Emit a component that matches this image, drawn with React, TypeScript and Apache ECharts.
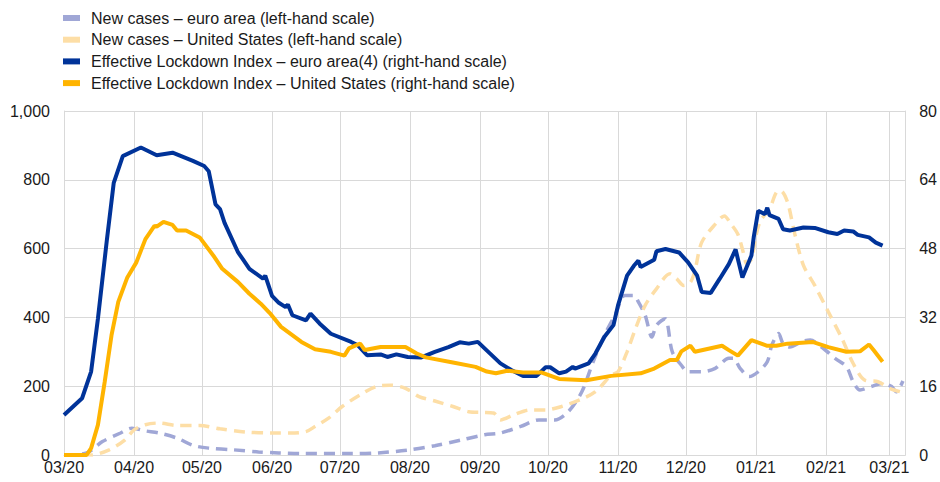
import React, { useEffect, useRef } from "react";
import * as echarts from "echarts";

const seriesNames = [
  "New cases – euro area (left-hand scale)",
  "New cases – United States (left-hand scale)",
  "Effective Lockdown Index – euro area(4) (right-hand scale)",
  "Effective Lockdown Index – United States (right-hand scale)",
];

const xMin = "2020-03-01";
const xMax = "2021-03-08";

const leftTicks = { min: 0, max: 1000, interval: 200 };
const rightTicks = { min: 0, max: 80, interval: 16 };

// New cases – euro area (left-hand scale)
const eaCasesDates = [
  "2020-03-01", "2020-03-11", "2020-03-18", "2020-03-26", "2020-03-31", "2020-04-06", "2020-04-12",
  "2020-04-20", "2020-04-27", "2020-05-04", "2020-05-15", "2020-05-26", "2020-06-04", "2020-06-14",
  "2020-07-06", "2020-07-18", "2020-08-01", "2020-08-12", "2020-08-24", "2020-09-03", "2020-09-10",
  "2020-09-19", "2020-09-27", "2020-10-04", "2020-10-10", "2020-10-16", "2020-10-21", "2020-10-26",
  "2020-10-31", "2020-11-04", "2020-11-08", "2020-11-10", "2020-11-13", "2020-11-16", "2020-11-18",
  "2020-11-22", "2020-11-23", "2020-11-25", "2020-11-29", "2020-12-02", "2020-12-08", "2020-12-14",
  "2020-12-20", "2020-12-22", "2020-12-25", "2020-12-29", "2021-01-02", "2021-01-06", "2021-01-08",
  "2021-01-11", "2021-01-13", "2021-01-16", "2021-01-21", "2021-01-25", "2021-01-30", "2021-02-05",
  "2021-02-10", "2021-02-13", "2021-02-16", "2021-02-21", "2021-02-26", "2021-03-02", "2021-03-04",
  "2021-03-07",
];
const eaCasesValues = [
  0, 6, 39, 64, 78, 70, 64,
  49, 28, 20, 15, 9, 6, 4,
  4, 6, 15, 27, 44, 59, 64,
  83, 102, 102, 126, 184, 271, 348,
  411, 464, 464, 445, 406, 343, 377,
  396, 377, 300, 261, 242, 242, 252,
  281, 281, 252, 228, 242, 271, 319,
  353, 324, 314, 329, 334, 314, 281,
  257, 213, 189, 199, 208, 199, 184,
  215,
];

// New cases – United States (left-hand scale)
const usCasesDates = [
  "2020-03-01", "2020-03-13", "2020-03-21", "2020-03-28", "2020-04-01", "2020-04-06", "2020-04-12",
  "2020-04-20", "2020-04-30", "2020-05-09", "2020-05-20", "2020-06-01", "2020-06-09", "2020-06-16",
  "2020-06-20", "2020-06-26", "2020-07-02", "2020-07-10", "2020-07-17", "2020-07-23", "2020-07-30",
  "2020-08-05", "2020-08-12", "2020-08-20", "2020-08-27", "2020-09-02", "2020-09-07", "2020-09-10",
  "2020-09-16", "2020-09-23", "2020-09-30", "2020-10-07", "2020-10-15", "2020-10-22", "2020-10-29",
  "2020-11-01", "2020-11-05", "2020-11-09", "2020-11-13", "2020-11-18", "2020-11-24", "2020-11-27",
  "2020-11-30", "2020-12-03", "2020-12-05", "2020-12-08", "2020-12-14", "2020-12-18", "2020-12-21",
  "2020-12-24", "2020-12-26", "2020-12-28", "2020-12-30", "2021-01-01", "2021-01-03", "2021-01-07",
  "2021-01-10", "2021-01-12", "2021-01-15", "2021-01-18", "2021-01-22", "2021-01-27", "2021-02-02",
  "2021-02-08", "2021-02-13", "2021-02-18", "2021-02-24", "2021-03-01", "2021-03-03", "2021-03-08",
];
const usCasesValues = [
  0, 0, 15, 44, 73, 88, 93,
  86, 86, 76, 67, 64, 64, 68,
  83, 107, 141, 175, 199, 203, 194,
  170, 157, 141, 126, 124, 122, 102,
  117, 131, 131, 141, 160, 184, 232,
  242, 300, 372, 435, 483, 527, 512,
  493, 502, 536, 618, 671, 695, 671,
  642, 599, 556, 570, 637, 681, 715,
  763, 768, 734, 647, 551, 493, 416,
  339, 266, 218, 213, 194, 189, 180,
];

// Effective Lockdown Index – euro area (right-hand scale)
const eaLockDates = [
  "2020-03-01", "2020-03-09", "2020-03-13", "2020-03-16", "2020-03-20", "2020-03-23", "2020-03-27",
  "2020-04-04", "2020-04-11", "2020-04-18", "2020-04-27", "2020-05-02", "2020-05-04", "2020-05-07",
  "2020-05-09", "2020-05-11", "2020-05-17", "2020-05-19", "2020-05-22", "2020-05-28", "2020-05-29",
  "2020-06-01", "2020-06-04", "2020-06-07", "2020-06-08", "2020-06-10", "2020-06-16", "2020-06-18",
  "2020-06-22", "2020-06-27", "2020-07-06", "2020-07-09", "2020-07-13", "2020-07-19", "2020-07-22",
  "2020-07-26", "2020-07-31", "2020-08-06", "2020-08-12", "2020-08-18", "2020-08-23", "2020-08-27",
  "2020-08-31", "2020-09-03", "2020-09-10", "2020-09-15", "2020-09-20", "2020-09-26", "2020-09-30",
  "2020-10-02", "2020-10-06", "2020-10-09", "2020-10-12", "2020-10-13", "2020-10-19", "2020-10-22",
  "2020-10-26", "2020-10-30", "2020-11-01", "2020-11-05", "2020-11-08", "2020-11-10", "2020-11-11",
  "2020-11-17", "2020-11-18", "2020-11-22", "2020-11-28", "2020-12-02", "2020-12-06", "2020-12-08",
  "2020-12-12", "2020-12-16", "2020-12-20", "2020-12-23", "2020-12-24", "2020-12-26", "2020-12-30",
  "2020-12-31", "2021-01-02", "2021-01-05", "2021-01-06", "2021-01-07", "2021-01-11", "2021-01-13",
  "2021-01-16", "2021-01-22", "2021-01-27", "2021-02-02", "2021-02-06", "2021-02-09", "2021-02-13",
  "2021-02-15", "2021-02-20", "2021-02-23", "2021-02-26",
];
const eaLockValues = [
  9.3, 13.2, 19.4, 31.7, 50.2, 63.3, 69.5,
  71.5, 69.7, 70.3, 68.4, 67.2, 66.0, 58.3,
  57.2, 54.0, 47.1, 45.6, 43.3, 41.0, 41.7,
  37.0, 35.4, 34.4, 35.0, 32.5, 31.3, 32.9,
  30.6, 28.2, 26.3, 25.5, 23.2, 23.4, 22.8,
  23.4, 22.8, 22.7, 24.0, 25.1, 26.2, 25.9,
  26.3, 24.8, 21.3, 19.7, 18.4, 18.4, 20.4,
  20.4, 19.0, 19.4, 20.5, 20.1, 21.3, 23.6,
  27.5, 30.2, 34.8, 41.7, 44.0, 45.2, 43.7,
  45.4, 47.4, 47.9, 47.1, 44.8, 41.7, 37.9,
  37.7, 41.0, 44.4, 47.8, 45.6, 41.3, 46.4,
  50.6, 56.8, 56.0, 57.5, 55.8, 54.9, 52.5,
  52.2, 52.9, 52.8, 51.8, 51.4, 52.2, 52.0,
  51.2, 50.6, 49.4, 48.7,
];

// Effective Lockdown Index – United States (right-hand scale)
const usLockDates = [
  "2020-03-01", "2020-03-11", "2020-03-13", "2020-03-16", "2020-03-19", "2020-03-22", "2020-03-25",
  "2020-03-29", "2020-04-02", "2020-04-06", "2020-04-10", "2020-04-11", "2020-04-14", "2020-04-18",
  "2020-04-20", "2020-04-24", "2020-04-30", "2020-05-06", "2020-05-10", "2020-05-17", "2020-05-22",
  "2020-05-27", "2020-05-31", "2020-06-05", "2020-06-14", "2020-06-20", "2020-06-27", "2020-07-03",
  "2020-07-05", "2020-07-08", "2020-07-10", "2020-07-12", "2020-07-19", "2020-07-30", "2020-08-04",
  "2020-08-08", "2020-08-20", "2020-08-30", "2020-09-04", "2020-09-08", "2020-09-13", "2020-09-20",
  "2020-09-28", "2020-10-06", "2020-10-18", "2020-10-29", "2020-11-11", "2020-11-17", "2020-11-24",
  "2020-11-27", "2020-11-29", "2020-12-03", "2020-12-05", "2020-12-10", "2020-12-17", "2020-12-20",
  "2020-12-24", "2020-12-30", "2021-01-06", "2021-01-10", "2021-01-15", "2021-01-26", "2021-02-02",
  "2021-02-10", "2021-02-16", "2021-02-20", "2021-02-22", "2021-02-26",
];
const usLockValues = [
  0, 0, 1.6, 7, 17, 27.8, 35.6,
  41.3, 44.8, 50.2, 53.3, 53.1, 54.2, 53.5,
  52.2, 52.2, 50.6, 46.4, 43.3, 40.2, 37.5,
  35.2, 33.0, 29.8, 26.3, 24.6, 24.0, 23.1,
  24.8, 25.5, 25.9, 24.4, 25.1, 25.1, 23.6,
  22.7, 21.5, 20.5, 19.4, 19.0, 19.6, 19.2,
  19.2, 17.7, 17.4, 18.4, 19.0, 20.1, 22.1,
  22.1, 24.1, 25.4, 24.0, 24.6, 25.4, 24.4,
  23.1, 26.7, 25.4, 25.4, 25.9, 26.3, 25.1,
  24.0, 24.1, 25.7, 24.4, 21.7,
];

const colors = ["#a0a7d6", "#fddea6", "#003399", "#ffb400"];

const FONT = "'Liberation Sans', Arial, sans-serif";

function pairs(dates: string[], values: number[]) {
  return dates.map((d, i) => [d, values[i]]);
}

function toTime(s: string) {
  const [y, m, d] = s.split("-").map(Number);
  return new Date(y, m - 1, d).getTime();
}

export default function App() {
  const ref = useRef<HTMLDivElement>(null);

  useEffect(() => {
    if (!ref.current) return;
    const chart = echarts.init(ref.current, undefined, { renderer: "svg" });
    const DAY = 86400000;
    const gridColor = "#d9d9d9";
    const textColor = "#1a1a1a";

    const dashed = (name: string, data: any[], color: string) => ({
      name,
      type: "line",
      yAxisIndex: 0,
      data,
      showSymbol: false,
      symbol: "none",
      smooth: 0.3,
      color,
      itemStyle: { color },
      lineStyle: { color, width: 3.5, type: [11, 7] },
    });
    const solid = (name: string, data: any[], color: string) => ({
      name,
      type: "line",
      yAxisIndex: 1,
      data,
      showSymbol: false,
      symbol: "none",
      color,
      itemStyle: { color },
      lineStyle: { color, width: 4 },
    });

    chart.setOption({
      animation: false,
      backgroundColor: "#ffffff",
      textStyle: { fontFamily: FONT },
      legend: {
        orient: "vertical",
        left: 58,
        top: 5,
        itemWidth: 17,
        itemHeight: 6,
        itemGap: 5.7,
        icon: "rect",
        textStyle: { fontFamily: FONT, fontSize: 16, color: textColor, padding: [0, 0, 0, 6] },
        itemStyle: { borderWidth: 0 },
        data: seriesNames,
      },
      grid: { left: 64, right: 32, top: 111, bottom: 27, containLabel: false },
      xAxis: {
        type: "time",
        min: toTime(xMin),
        max: toTime(xMax),
        splitNumber: 12,
        minInterval: 28 * DAY,
        maxInterval: 31 * DAY,
        axisLine: { show: true, lineStyle: { color: gridColor, width: 1 } },
        axisTick: { show: false },
        splitLine: { show: true, lineStyle: { color: gridColor, width: 1 } },
        axisLabel: {
          fontFamily: FONT,
          fontSize: 16,
          color: textColor,
          margin: 4,
          hideOverlap: false,
          formatter: (v: number) => {
            const d = new Date(v);
            if (d.getDate() !== 1) return "";
            const mm = String(d.getMonth() + 1).padStart(2, "0");
            const yy = String(d.getFullYear() % 100).padStart(2, "0");
            return mm + "/" + yy;
          },
        },
      },
      yAxis: [
        {
          type: "value",
          position: "left",
          min: leftTicks.min,
          max: leftTicks.max,
          interval: leftTicks.interval,
          axisLine: { show: true, lineStyle: { color: gridColor } },
          axisTick: { show: false },
          splitLine: { show: true, lineStyle: { color: gridColor, width: 1 } },
          axisLabel: {
            fontFamily: FONT,
            fontSize: 16,
            color: textColor,
            margin: 14,
            formatter: (v: number) => v.toLocaleString("en-US"),
          },
        },
        {
          type: "value",
          position: "right",
          min: rightTicks.min,
          max: rightTicks.max,
          interval: rightTicks.interval,
          axisLine: { show: true, lineStyle: { color: gridColor } },
          axisTick: { show: false },
          splitLine: { show: false },
          axisLabel: { fontFamily: FONT, fontSize: 16, color: textColor, margin: 14 },
        },
      ],
      series: [
        dashed(seriesNames[0], pairs(eaCasesDates, eaCasesValues), colors[0]),
        dashed(seriesNames[1], pairs(usCasesDates, usCasesValues), colors[1]),
        solid(seriesNames[2], pairs(eaLockDates, eaLockValues), colors[2]),
        solid(seriesNames[3], pairs(usLockDates, usLockValues), colors[3]),
      ],
    });
    return () => chart.dispose();
  }, []);

  return <div ref={ref} style={{ width: 940, height: 482, position: "absolute", left: 0, top: 0 }} />;
}
